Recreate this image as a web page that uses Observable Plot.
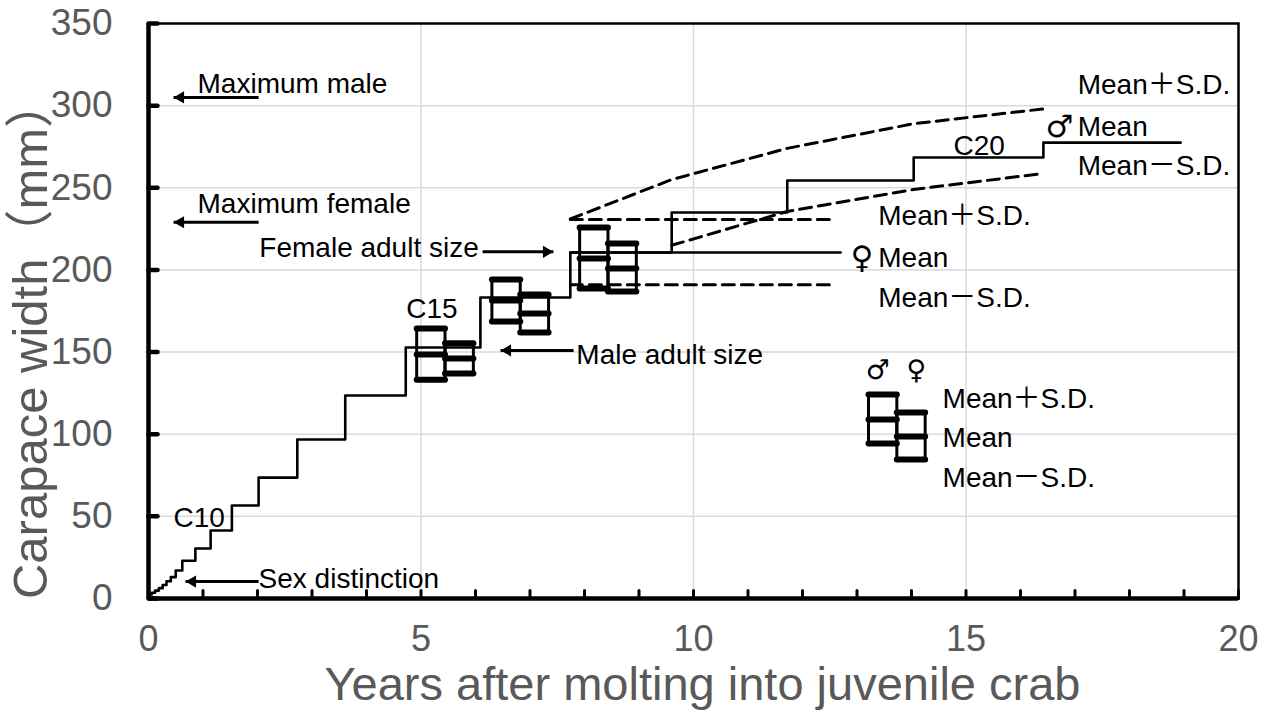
<!DOCTYPE html>
<html>
<head>
<meta charset="utf-8">
<script src="https://cdn.jsdelivr.net/npm/d3@7"></script>
<script src="https://cdn.jsdelivr.net/npm/@observablehq/plot@0.6"></script>
<style>
  html, body { margin: 0; padding: 0; background: #fff; }
</style>
</head>
<body>
<div id="chart"></div>
<script>
// ---- data (years after molting, carapace width mm) ----
const stairT = [0, 0.06, 0.12, 0.19, 0.26, 0.33, 0.41, 0.50, 0.62, 0.86, 1.14, 1.53, 2.02, 2.73, 3.61, 4.72, 6.09, 7.74];
const stairW = [2.5, 3.5, 4.8, 6.3, 8.2, 10.5, 13, 17, 23, 30.4, 41.4, 56.6, 73.6, 96.8, 123.6, 152.8, 183.2, 210.6];

const maleT = [9.6, 11.72, 14.04, 16.42, 18.94];
const maleW = [235, 254.4, 268.4, 277.5, 277.5];

const femaleT = [7.74, 12.7];
const femaleW = [210.6, 210.6];

const malePlusT = [7.74, 9.6, 11.72, 14.04, 16.42];
const malePlusW = [231, 255, 274, 289, 298];
const maleMinusT = [9.6, 11.72, 14.04, 16.42];
const maleMinusW = [215, 235.6, 249, 258.7];

const femPlusT = [7.74, 12.55];
const femPlusW = [230.7, 230.7];
const femMinusT = [7.74, 12.55];
const femMinusW = [191, 191];

// observed instars (C15, C16, C17) and the legend glyph
const boxMaleX = [5.19, 6.57, 8.18, 13.48];
const boxFemX  = [5.71, 7.09, 8.70, 14.00];
const maleHi   = [164.3, 194.2, 225.8, 124.2];
const maleMean = [148.5, 181.4, 207.0, 108.9];
const maleLo   = [133.2, 168.6, 188.7, 94.3];
const femHi    = [155.3, 185.0, 216.1, 113.2];
const femMean  = [146.1, 173.5, 200.9, 98.6];
const femLo    = [137.0, 161.9, 186.9, 84.6];

// annotation labels
const labelText = ["Maximum male", "Maximum female", "Male adult size", "Sex distinction", "C10", "C15", "C20",
  "Mean＋S.D.", "Mean", "Mean－S.D.", "Mean＋S.D.", "Mean", "Mean－S.D.", "Mean＋S.D.", "Mean", "Mean－S.D."];
const labelX = [0.90, 0.90, 7.85, 2.02, 0.46, 4.73, 14.77,
  17.05, 17.05, 17.05, 13.39, 13.39, 13.39, 14.57, 14.57, 14.57];
const labelY = [313, 240.4, 148, 11.6, 48.7, 175.9, 275.7,
  312.8, 286.7, 263, 233, 207.5, 182.6, 121.7, 97.4, 73.6];
const endLabelText = ["Female adult size"];
const endLabelX = [6.06];
const endLabelY = [213.6];

// sex symbols: in-chart ones and the legend ones
const symText = ["♂", "♀"];
const symX = [16.46, 12.88];
const symY = [286.7, 207.5];
const legSymText = ["♂", "♀"];
const legSymX = [13.16, 13.91];
const legSymY = [138.8, 138.8];

// arrows: tail x, tip x, y
const arrowTail = [2.02, 2.02, 6.13, 7.80, 2.02];
const arrowTip  = [0.46, 0.46, 7.43, 6.46, 0.68];
const arrowY    = [305, 229, 211, 151, 10.3];

const xTicks = [0, 5, 10, 15, 20];
const xMinor = d3.range(0, 21);
const yTicks = [0, 50, 100, 150, 200, 250, 300, 350];

// ---- build tables ----
const pts = (T, W) => T.map((t, i) => ({t, w: W[i]}));
const stair = pts(stairT, stairW);
const maleLine = stair.concat(pts(maleT, maleW));
const femaleLine = pts(femaleT, femaleW);
const boxes = [];
boxMaleX.forEach((x, i) => boxes.push({x, hi: maleHi[i], mean: maleMean[i], lo: maleLo[i]}));
boxFemX.forEach((x, i) => boxes.push({x, hi: femHi[i], mean: femMean[i], lo: femLo[i]}));
const bars = boxes.flatMap(b => [b.hi, b.mean, b.lo].map(v => ({x: b.x, v})));
const labels = labelText.map((s, i) => ({s, x: labelX[i], y: labelY[i]}));
const endLabels = endLabelText.map((s, i) => ({s, x: endLabelX[i], y: endLabelY[i]}));
const syms = symText.map((s, i) => ({s, x: symX[i], y: symY[i]}));
const legSyms = legSymText.map((s, i) => ({s, x: legSymX[i], y: legSymY[i]}));
const arrows = arrowTail.map((a, i) => ({x1: a, x2: arrowTip[i], y: arrowY[i]}));

const hw = 0.26;
const annFont = "Liberation Sans, Arial, Noto Sans CJK JP, sans-serif";
const gray = "#595959";
const dash = "12,7";
const triR = 4.5;
const triOff = 2 * Math.sqrt(Math.PI * triR * triR / (3 * Math.sqrt(3)));
const tickShape = {draw(context, l) { context.moveTo(0, 0); context.lineTo(0, -l); }};

const chart = Plot.plot({
  width: 1271,
  height: 726,
  marginLeft: 148,
  marginRight: 33,
  marginTop: 23,
  marginBottom: 128,
  x: {domain: [0, 20]},
  y: {domain: [0, 350]},
  style: {background: "#fff", fontFamily: annFont},
  marks: [
    Plot.gridY(yTicks, {stroke: "#d9d9d9", strokeOpacity: 1, strokeWidth: 1.5}),
    Plot.gridX(xTicks, {stroke: "#d9d9d9", strokeOpacity: 1, strokeWidth: 1.5}),
    // dashed S.D. lines
    Plot.line(pts(malePlusT, malePlusW), {x: "t", y: "w", stroke: "#000", strokeWidth: 3, strokeDasharray: dash}),
    Plot.line(pts(maleMinusT, maleMinusW), {x: "t", y: "w", stroke: "#000", strokeWidth: 3, strokeDasharray: dash}),
    Plot.line(pts(femPlusT, femPlusW), {x: "t", y: "w", stroke: "#000", strokeWidth: 3, strokeDasharray: dash}),
    Plot.line(pts(femMinusT, femMinusW), {x: "t", y: "w", stroke: "#000", strokeWidth: 3, strokeDasharray: dash}),
    // growth staircase
    Plot.line(maleLine, {x: "t", y: "w", curve: "step-after", stroke: "#000", strokeWidth: 2.6}),
    Plot.line(femaleLine, {x: "t", y: "w", curve: "step-after", stroke: "#000", strokeWidth: 2.6}),
    // mean ± SD glyphs
    Plot.rect(boxes, {x1: d => d.x - hw, x2: d => d.x + hw, y1: "lo", y2: "hi", fill: "none", stroke: "#000", strokeWidth: 3}),
    Plot.ruleY(bars, {y: "v", x1: d => d.x - hw, x2: d => d.x + hw, stroke: "#000", strokeWidth: 6, strokeLinecap: "round"}),
    // arrows
    Plot.link(arrows, {x1: "x1", x2: "x2", y1: "y", y2: "y", stroke: "#000", strokeWidth: 3}),
    Plot.dot(arrows.filter(d => d.x2 < d.x1), {x: "x2", y: "y", symbol: "triangle", r: triR, rotate: -90, fill: "#000", stroke: "none", dx: triOff}),
    Plot.dot(arrows.filter(d => d.x2 > d.x1), {x: "x2", y: "y", symbol: "triangle", r: triR, rotate: 90, fill: "#000", stroke: "none", dx: -triOff}),
    // labels
    Plot.text(labels, {x: "x", y: "y", text: "s", textAnchor: "start", fontSize: 28, fill: "#000", fontFamily: annFont}),
    Plot.text(endLabels, {x: "x", y: "y", text: "s", textAnchor: "end", fontSize: 28, fill: "#000", fontFamily: annFont}),
    Plot.text(syms, {x: "x", y: "y", text: "s", textAnchor: "start", fontSize: 31, fill: "#000", fontFamily: "DejaVu Sans"}),
    Plot.text(legSyms, {x: "x", y: "y", text: "s", textAnchor: "start", fontSize: 27, fill: "#000", fontFamily: "DejaVu Sans"}),
    // axes frame
    Plot.frame({stroke: "#000", strokeWidth: 2.5}),
    Plot.ruleX([0], {stroke: "#000", strokeWidth: 4.5}),
    Plot.ruleY([0], {stroke: "#000", strokeWidth: 4.5}),
    Plot.vector(xMinor, {x: d => d, y: 0, length: 8, rotate: 0, anchor: "start", shape: tickShape, stroke: "#000", strokeWidth: 3}),
    Plot.vector(yTicks, {x: 0, y: d => d, length: 9, rotate: 90, anchor: "start", shape: tickShape, stroke: "#000", strokeWidth: 4.5}),
    Plot.axisX(xTicks, {tickSize: 0, tickPadding: 27, fontSize: 36, color: gray, fontFamily: annFont, label: null}),
    Plot.axisY(yTicks, {tickSize: 0, tickPadding: 36, fontSize: 37, color: gray, fontFamily: annFont, label: null}),
    Plot.text(["Carapace width（mm）"], {text: d => d, frameAnchor: "left", textAnchor: "middle", lineAnchor: "middle", rotate: -90, dx: -117, dy: 28, fontSize: 49, fill: gray, fontFamily: annFont}),
    Plot.text(["Years after molting into juvenile crab"], {text: d => d, frameAnchor: "bottom", textAnchor: "middle", lineAnchor: "middle", dx: 9, dy: 86, fontSize: 47, fill: gray, fontFamily: annFont})
  ]
});
document.getElementById("chart").appendChild(chart);
</script>
</body>
</html>
